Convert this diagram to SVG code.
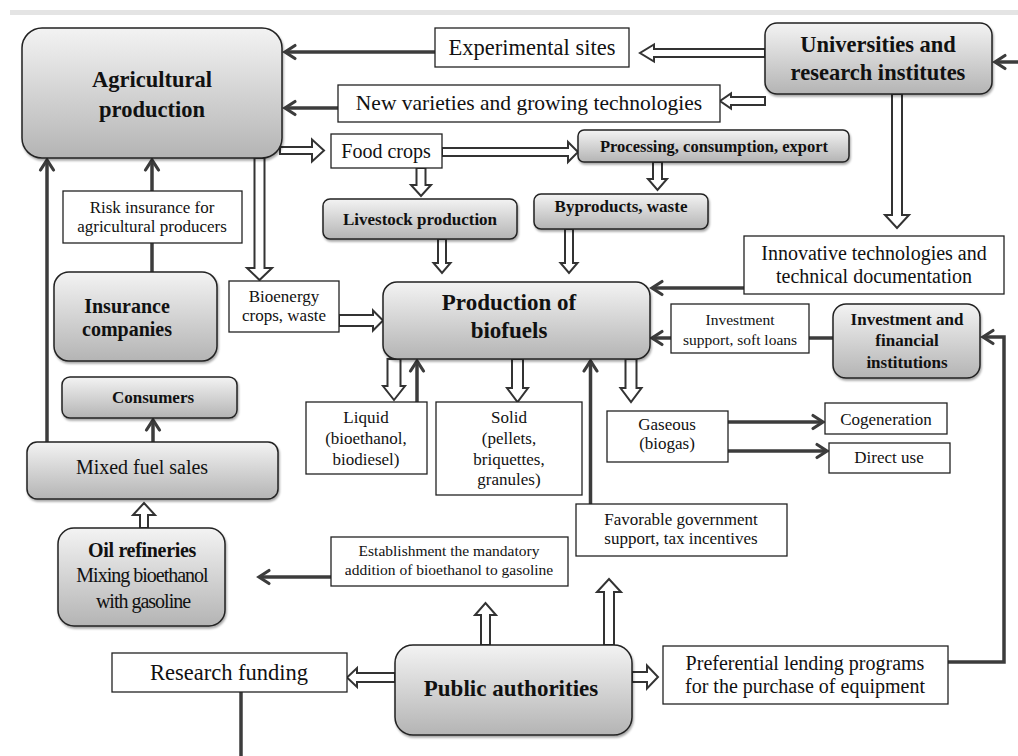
<svg xmlns="http://www.w3.org/2000/svg" width="1018" height="756" viewBox="0 0 1018 756">
<defs>
<linearGradient id="g" x1="0" y1="0" x2="0" y2="1">
<stop offset="0" stop-color="#f3f3f3"/>
<stop offset="1" stop-color="#b4b4b4"/>
</linearGradient>
<filter id="sh" x="-10%" y="-10%" width="120%" height="130%">
<feDropShadow dx="1" dy="2" stdDeviation="1.2" flood-color="#000" flood-opacity="0.35"/>
</filter>
<marker id="ah" markerUnits="userSpaceOnUse" markerWidth="14" markerHeight="16" viewBox="0 0 14 16" refX="12" refY="8" orient="auto" overflow="visible">
<path d="M2,1.5 L12,8 L2,14.5" fill="none" stroke="#3c3c3c" stroke-width="3.2" stroke-linecap="round"/>
</marker>
<style>
.gb{fill:url(#g);stroke:#222;stroke-width:1.5;filter:url(#sh)}
.wb{fill:#fff;stroke:#222;stroke-width:1.3}
.t{font-family:"Liberation Serif","Times New Roman",serif;fill:#111;text-anchor:middle}
.b{font-weight:bold}
.ln{fill:none;stroke:#3c3c3c;stroke-width:3.5}
.ar{fill:none;stroke:#3c3c3c;stroke-width:3.5;marker-end:url(#ah)}
.ha{fill:#fff;stroke:#333;stroke-width:2;stroke-linejoin:miter}
</style>
</defs>
<rect x="10" y="10" width="1008" height="5" fill="#e4e4e4"/>

<g id="connectors">
<path class="ar" d="M435,52 L285,52"/>
<path class="ar" d="M338,108 L285,108"/>
<path class="ar" d="M1018,62 L995,62"/>
<path class="ar" d="M744,288 L652,288"/>
<path class="ar" d="M671,338 L652,338"/>
<path class="ln" d="M833,338 L809,338"/>
<path class="ar" d="M948,662 L1004,662 L1004,337 L983,337"/>
<path class="ar" d="M590.5,504 L590.5,361"/>
<path class="ar" d="M417,402 L417,361"/>
<path class="ar" d="M728,422 L823,422"/>
<path class="ar" d="M728,451 L827,451"/>
<path class="ar" d="M47,442 L47,160"/>
<path class="ar" d="M152,191 L152,160"/>
<path class="ln" d="M152,272 L152,243"/>
<path class="ar" d="M153,442 L153,420"/>
<path class="ar" d="M331,577 L259,577"/>
<path class="ln" d="M241,692 L241,756"/>

<path class="ha" d="M765,49 L654,49 L654,44.5 L640,53 L654,61.5 L654,57 L765,57 Z"/>
<path class="ha" d="M765,97 L731,97 L731,93.5 L720,101 L731,108.5 L731,105 L765,105 Z"/>
<path class="ha" d="M892,94 L892,215 L885,215 L897,228 L909,215 L902,215 L902,94 Z"/>
<path class="ha" d="M280,147 L312,147 L312,139.5 L324,150.5 L312,161.5 L312,154 L280,154 Z"/>
<path class="ha" d="M442,148 L568,148 L568,142 L578,152 L568,162 L568,156 L442,156 Z"/>
<path class="ha" d="M416.5,168 L416.5,185 L411,185 L421,196 L431,185 L425.5,185 L425.5,168 Z"/>
<path class="ha" d="M653,162 L653,179 L648,179 L657.5,190 L667,179 L662,179 L662,162 Z"/>
<path class="ha" d="M254.5,158 L254.5,268 L247,268 L259.5,280 L272,268 L264.5,268 L264.5,158 Z"/>
<path class="ha" d="M438,239 L438,263 L433.5,263 L442,273 L450.5,263 L446,263 L446,239 Z"/>
<path class="ha" d="M565,229 L565,263 L560.5,263 L569,273 L577.5,263 L573,263 L573,229 Z"/>
<path class="ha" d="M339,315 L373,315 L373,310.5 L383,320.5 L373,330.5 L373,326 L339,326 Z"/>
<path class="ha" d="M387.5,359 L387.5,386 L383,386 L394,400 L405,386 L400.5,386 L400.5,359 Z"/>
<path class="ha" d="M512,359 L512,388 L507,388 L517.5,402 L528,388 L523,388 L523,359 Z"/>
<path class="ha" d="M625.5,359 L625.5,388 L620.5,388 L631,402 L641.5,388 L636.5,388 L636.5,359 Z"/>
<path class="ha" d="M140,528 L140,515 L133,515 L144,503 L155,515 L148,515 L148,528 Z"/>
<path class="ha" d="M481,645 L481,615 L475,615 L485.5,603 L496,615 L490,615 L490,645 Z"/>
<path class="ha" d="M604,645 L604,592 L597,592 L609,579 L621,592 L614,592 L614,645 Z"/>
<path class="ha" d="M395,673 L357,673 L357,668 L347,677.5 L357,687 L357,682 L395,682 Z"/>
<path class="ha" d="M632,672 L647,672 L647,665.5 L658,677 L647,688.5 L647,682 L632,682 Z"/>
</g>

<g id="agri"><rect class="gb" x="22" y="28" width="260" height="130" rx="20"/>
<text class="t b" x="152" y="87" font-size="22.5">Agricultural</text>
<text class="t b" x="152" y="117" font-size="22.5">production</text></g>

<g id="exp"><rect class="wb" x="435" y="28" width="194" height="39"/>
<text class="t" x="532" y="55" font-size="22.5">Experimental sites</text></g>

<g id="newvar"><rect class="wb" x="338" y="85" width="382" height="37"/>
<text class="t" x="529" y="110" font-size="21.5">New varieties and growing technologies</text></g>

<g id="univ"><rect class="gb" x="765" y="23" width="227" height="71" rx="12"/>
<text class="t b" x="878" y="52" font-size="22.5">Universities and</text>
<text class="t b" x="878" y="80" font-size="22.5">research institutes</text></g>

<g id="food"><rect class="wb" x="331" y="134" width="111" height="34"/>
<text class="t" x="386" y="158" font-size="20">Food crops</text></g>

<g id="proc"><rect class="gb" x="578" y="130" width="271" height="32" rx="6"/>
<text class="t b" x="714" y="152" font-size="16.5">Processing, consumption, export</text></g>

<g id="livestock"><rect class="gb" x="323" y="199" width="194" height="40" rx="7"/>
<text class="t b" x="420" y="225" font-size="17">Livestock production</text></g>

<g id="byproducts"><rect class="gb" x="534" y="194" width="174" height="35" rx="7"/>
<text class="t b" x="621" y="212" font-size="17">Byproducts, waste</text></g>

<g id="risk"><rect class="wb" x="63" y="191" width="179" height="52"/>
<text class="t" x="152" y="213" font-size="17">Risk insurance for</text>
<text class="t" x="152" y="232" font-size="17">agricultural producers</text></g>

<g id="innov"><rect class="wb" x="744" y="236" width="260" height="58"/>
<text class="t" x="874" y="260" font-size="20">Innovative technologies and</text>
<text class="t" x="874" y="283" font-size="20">technical documentation</text></g>

<g id="insurance"><rect class="gb" x="54" y="272" width="163" height="89" rx="15"/>
<text class="t b" x="127" y="313" font-size="20">Insurance</text>
<text class="t b" x="127" y="336" font-size="20">companies</text></g>

<g id="bioenergy"><rect class="wb" x="229" y="281" width="110" height="51"/>
<text class="t" x="284" y="302" font-size="17">Bioenergy</text>
<text class="t" x="284" y="321" font-size="17">crops, waste</text></g>

<g id="production"><rect class="gb" x="383" y="282" width="267" height="77" rx="14"/>
<text class="t b" x="509" y="310" font-size="23">Production of</text>
<text class="t b" x="509" y="338" font-size="23">biofuels</text></g>

<g id="invsupport"><rect class="wb" x="671" y="304" width="138" height="49"/>
<text class="t" x="740" y="325" font-size="15.5">Investment</text>
<text class="t" x="740" y="345" font-size="15.5">support, soft loans</text></g>

<g id="invfin"><rect class="gb" x="833" y="304" width="147" height="74" rx="13"/>
<text class="t b" x="907" y="325" font-size="17">Investment and</text>
<text class="t b" x="907" y="346" font-size="17">financial</text>
<text class="t b" x="907" y="368" font-size="17">institutions</text></g>

<g id="consumers"><rect class="gb" x="62" y="377" width="175" height="41" rx="8"/>
<text class="t b" x="153" y="403" font-size="17">Consumers</text></g>

<g id="liquid"><rect class="wb" x="306" y="402" width="121" height="72"/>
<text class="t" x="366" y="423" font-size="17">Liquid</text>
<text class="t" x="366" y="444" font-size="17">(bioethanol,</text>
<text class="t" x="366" y="465" font-size="17">biodiesel)</text></g>

<g id="solid"><rect class="wb" x="436" y="402" width="146" height="93"/>
<text class="t" x="509" y="423" font-size="17">Solid</text>
<text class="t" x="509" y="444" font-size="17">(pellets,</text>
<text class="t" x="509" y="465" font-size="17">briquettes,</text>
<text class="t" x="509" y="485" font-size="17">granules)</text></g>

<g id="gaseous"><rect class="wb" x="607" y="411" width="121" height="51"/>
<text class="t" x="667" y="430" font-size="17">Gaseous</text>
<text class="t" x="667" y="449" font-size="17">(biogas)</text></g>

<g id="cogeneration"><rect class="wb" x="825" y="403" width="122" height="31"/>
<text class="t" x="886" y="425" font-size="17">Cogeneration</text></g>

<g id="directuse"><rect class="wb" x="829" y="443" width="121" height="30"/>
<text class="t" x="889" y="463" font-size="17">Direct use</text></g>

<g id="mixed"><rect class="gb" x="27" y="442" width="251" height="57" rx="10"/>
<text class="t" x="142" y="474" font-size="20">Mixed fuel sales</text></g>

<g id="favorable"><rect class="wb" x="576" y="504" width="211" height="52"/>
<text class="t" x="681" y="525" font-size="17">Favorable government</text>
<text class="t" x="681" y="544" font-size="17">support, tax incentives</text></g>

<g id="establishment"><rect class="wb" x="331" y="537" width="237" height="49"/>
<text class="t" x="449" y="556" font-size="15.5">Establishment the mandatory</text>
<text class="t" x="449" y="575" font-size="15.5">addition of bioethanol to gasoline</text></g>

<g id="oil"><rect class="gb" x="58" y="528" width="167" height="98" rx="16"/>
<text class="t b" x="142" y="557" font-size="20" letter-spacing="-0.3">Oil refineries</text>
<text class="t" x="142" y="582" font-size="20" letter-spacing="-1">Mixing bioethanol</text>
<text class="t" x="143" y="608" font-size="20" letter-spacing="-1">with gasoline</text></g>

<g id="research"><rect class="wb" x="112" y="653" width="235" height="39"/>
<text class="t" x="229" y="680" font-size="22.5">Research funding</text></g>

<g id="public"><rect class="gb" x="395" y="645" width="237" height="90" rx="18"/>
<text class="t b" x="511" y="696" font-size="23">Public authorities</text></g>

<g id="preferential"><rect class="wb" x="663" y="646" width="285" height="58"/>
<text class="t" x="805" y="670" font-size="20">Preferential lending programs</text>
<text class="t" x="805" y="693" font-size="20">for the purchase of equipment</text></g>
</svg>
